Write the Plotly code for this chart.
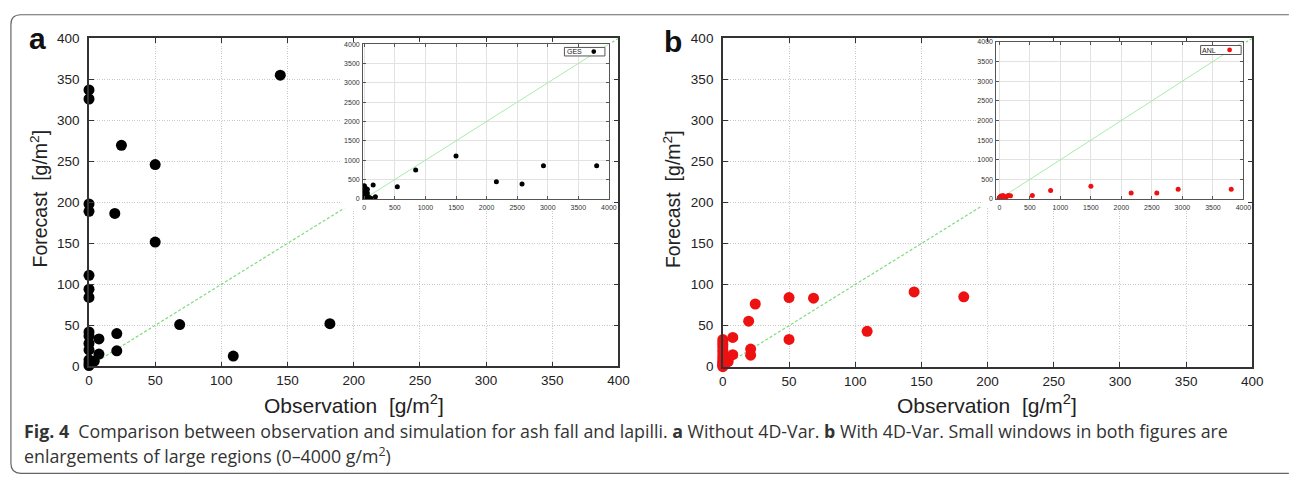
import plotly.graph_objects as go

W, H = 1290, 490

# ---------------- data ----------------
OBS = [0, 0, 0, 0, 0, 0, 0, 0, 0, 0, 0, 0, 0, 0,
       4, 7.5, 7.5, 19.5, 21, 21, 24.5, 50, 50, 68.5, 109, 144.5, 182,
       540, 840, 1500, 2160, 2580, 2930, 3800]
FCST_GES = [337, 326, 198, 189, 111, 94, 84, 42, 37, 28, 20, 8, 4, 1,
            6.5, 33.5, 15, 186.5, 40, 19, 269.5, 246, 151.5, 51, 12.5, 355, 52,
            310, 745, 1105, 444, 386, 853, 853]
FCST_ANL = [33, 30, 27, 24, 20, 17, 13, 10, 7, 5, 3, 2, 1, 0,
            6, 35.6, 14.6, 55.4, 21.4, 14, 76.3, 84.2, 33.2, 83.4, 43, 91, 85,
            93, 218, 327, 151, 151, 252, 252]
MAIN_TICKS = [0, 50, 100, 150, 200, 250, 300, 350, 400]
INSET_TICKS = [0, 500, 1000, 1500, 2000, 2500, 3000, 3500, 4000]
MAIN_MAX = 400
INSET_MAX = 4000
SERIES_A = "GES"
SERIES_B = "ANL"


def px(x):
    return x / W


def py(y):
    return 1 - y / H


def in_main(xs, ys):
    pts = [(a, b) for a, b in zip(xs, ys) if a <= MAIN_MAX and b <= MAIN_MAX]
    return [p[0] for p in pts], [p[1] for p in pts]


fig = go.Figure()

DIAG_MAIN = dict(color="#7edc7e", width=1.2, dash="3px,2px")
DIAG_INSET = dict(color="#a8eca8", width=1)

panels = [
    (FCST_GES, "#000000", ("x", "y"), ("x2", "y2"), ("x3", "y3")),
    (FCST_ANL, "#ee1111", ("x4", "y4"), ("x5", "y5"), ("x6", "y6")),
]
for fc, col, main, cover, inset in panels:
    fig.add_trace(go.Scatter(x=[0, MAIN_MAX], y=[0, MAIN_MAX], mode="lines",
                             line=DIAG_MAIN, xaxis=main[0], yaxis=main[1],
                             showlegend=False, hoverinfo="skip"))
    mx, my = in_main(OBS, fc)
    fig.add_trace(go.Scatter(x=mx, y=my, mode="markers",
                             marker=dict(color=col, size=11, line=dict(width=0)),
                             xaxis=main[0], yaxis=main[1], cliponaxis=False,
                             showlegend=False))
    fig.add_trace(go.Scatter(x=[], y=[], xaxis=cover[0], yaxis=cover[1],
                             showlegend=False))
    fig.add_trace(go.Scatter(x=[0, INSET_MAX], y=[0, INSET_MAX], mode="lines",
                             line=DIAG_INSET, xaxis=inset[0], yaxis=inset[1],
                             showlegend=False, hoverinfo="skip"))
    fig.add_trace(go.Scatter(x=OBS, y=fc, mode="markers",
                             marker=dict(color=col, size=5, line=dict(width=0)),
                             xaxis=inset[0], yaxis=inset[1], showlegend=False))

MAIN_FONT = dict(family="Liberation Sans, Arial, sans-serif", size=13.5, color="#222")
INSET_FONT = dict(family="Liberation Sans, Arial, sans-serif", size=7, color="#333")


def main_ax(domain, anchor, standoff):
    return dict(domain=domain, anchor=anchor, range=[0, MAIN_MAX], tickvals=MAIN_TICKS,
                ticks="inside", ticklen=5, tickwidth=1, tickcolor="#333",
                showline=True, linecolor="#333", linewidth=1.5, mirror="ticks",
                showgrid=True, gridcolor="#c8c8c8", griddash="1px,1.5px", gridwidth=1,
                zeroline=False, tickfont=MAIN_FONT, ticklabelstandoff=standoff)


def inset_ax(domain, anchor, rng):
    return dict(domain=domain, anchor=anchor, range=rng, tickvals=INSET_TICKS,
                ticks="inside", ticklen=3, tickwidth=1, tickcolor="#555",
                showline=True, linecolor="#555", linewidth=1, mirror="ticks",
                showgrid=True, gridcolor="#e2e2e2", gridwidth=1,
                zeroline=False, tickfont=INSET_FONT, ticklabelstandoff=1)


def cover_ax(domain, anchor):
    return dict(domain=domain, anchor=anchor, visible=False, range=[0, 1],
                showgrid=False, zeroline=False)


fig.update_layout(
    width=W, height=H, autosize=False,
    margin=dict(l=0, r=0, t=0, b=0),
    paper_bgcolor="white", plot_bgcolor="white",
    showlegend=False,
    xaxis=main_ax([px(86), px(621.7)], "y", 1),
    yaxis=main_ax([py(370.7), py(32.3)], "x", 5),
    xaxis2=cover_ax([px(341), px(615.5)], "y2"),
    yaxis2=cover_ax([py(208), py(36)], "x2"),
    xaxis3=inset_ax([px(363.3), px(612)], "y3", [-20, INSET_MAX]),
    yaxis3=inset_ax([py(198.3), py(38.3)], "x3", [-10, INSET_MAX]),
    xaxis4=main_ax([px(727.3), px(1263)], "y4", 1),
    yaxis4=main_ax([py(371), py(32.3)], "x4", 5),
    xaxis5=cover_ax([px(989), px(1257)], "y5"),
    yaxis5=cover_ax([py(207), py(36)], "x5"),
    xaxis6=inset_ax([px(1004), px(1254)], "y6", [-50, INSET_MAX]),
    yaxis6=inset_ax([py(198.5), py(36)], "x6", [-10, INSET_MAX]),
)

shapes = []
r = 10
L, T, B, R = 7, 8, 481, 1300
path = (f"M {px(R)},{py(T)} L {px(L + r)},{py(T)} Q {px(L)},{py(T)} {px(L)},{py(T + r)} "
        f"L {px(L)},{py(B - r)} Q {px(L)},{py(B)} {px(L + r)},{py(B)} L {px(R)},{py(B)}")
shapes.append(dict(type="path", path=path, xref="paper", yref="paper",
                   line=dict(color="#666", width=1.2)))
for (x0, x1, y0, y1), (mcx, mcy), col in [
        ((567, 608, 41.7, 50.5), (596.7, 46), "#000000"),
        ((1210.7, 1251.7, 39.7, 49), (1240, 44.3), "#ee1111")]:
    shapes.append(dict(type="rect", xref="paper", yref="paper",
                       x0=px(x0), x1=px(x1), y0=py(y1), y1=py(y0),
                       line=dict(color="#555", width=1), fillcolor="white"))
    shapes.append(dict(type="circle", xref="paper", yref="paper",
                       x0=px(mcx - 2.4), x1=px(mcx + 2.4), y0=py(mcy + 2.4), y1=py(mcy - 2.4),
                       line=dict(width=0), fillcolor=col))
fig.update_layout(shapes=shapes)

HEL = "Liberation Sans, Arial, sans-serif"
ann = []


def add_text(text, x, y, size, family=HEL, xanchor="center", angle=0, color="#222"):
    ann.append(dict(text=text, x=px(x), y=py(y), xref="paper", yref="paper",
                    showarrow=False, xanchor=xanchor, yanchor="middle", textangle=angle,
                    font=dict(family=family, size=size, color=color)))


add_text("<b>a</b>", 34, 33, 30, color="#111")
add_text("<b>b</b>", 677, 36, 30, color="#111")
xt = "Observation  [g/m<sup>2</sup>]"
yt = "Forecast  [g/m<sup>2</sup>]"
add_text(xt, 354, 410, 21)
add_text(xt, 995, 410, 21)
add_text(yt, 35, 198, 19.5, angle=-90)
add_text(yt, 676, 198, 19.5, angle=-90)
add_text(SERIES_A, 577, 46, 7)
add_text(SERIES_B, 1219.5, 44.5, 7)

CAP = "Open Sans, sans-serif"
cap1 = ("<b>Fig. 4</b>  Comparison between observation and simulation for ash fall and lapilli. "
        "<b>a</b> Without 4D-Var. <b>b</b> With 4D-Var. Small windows in both figures are")
cap2 = "enlargements of large regions (0–4000 g/m<sup>2</sup>)"
add_text(cap1, 18, 437, 17.8, family=CAP, xanchor="left", color="#333")
add_text(cap2, 18, 463, 17.8, family=CAP, xanchor="left", color="#333")
fig.update_layout(annotations=ann)

fig.write_html("out.html",
               config={"displayModeBar": False},
               post_script="document.body.style.margin='0';"
                           "document.body.style.overflow='hidden';")
